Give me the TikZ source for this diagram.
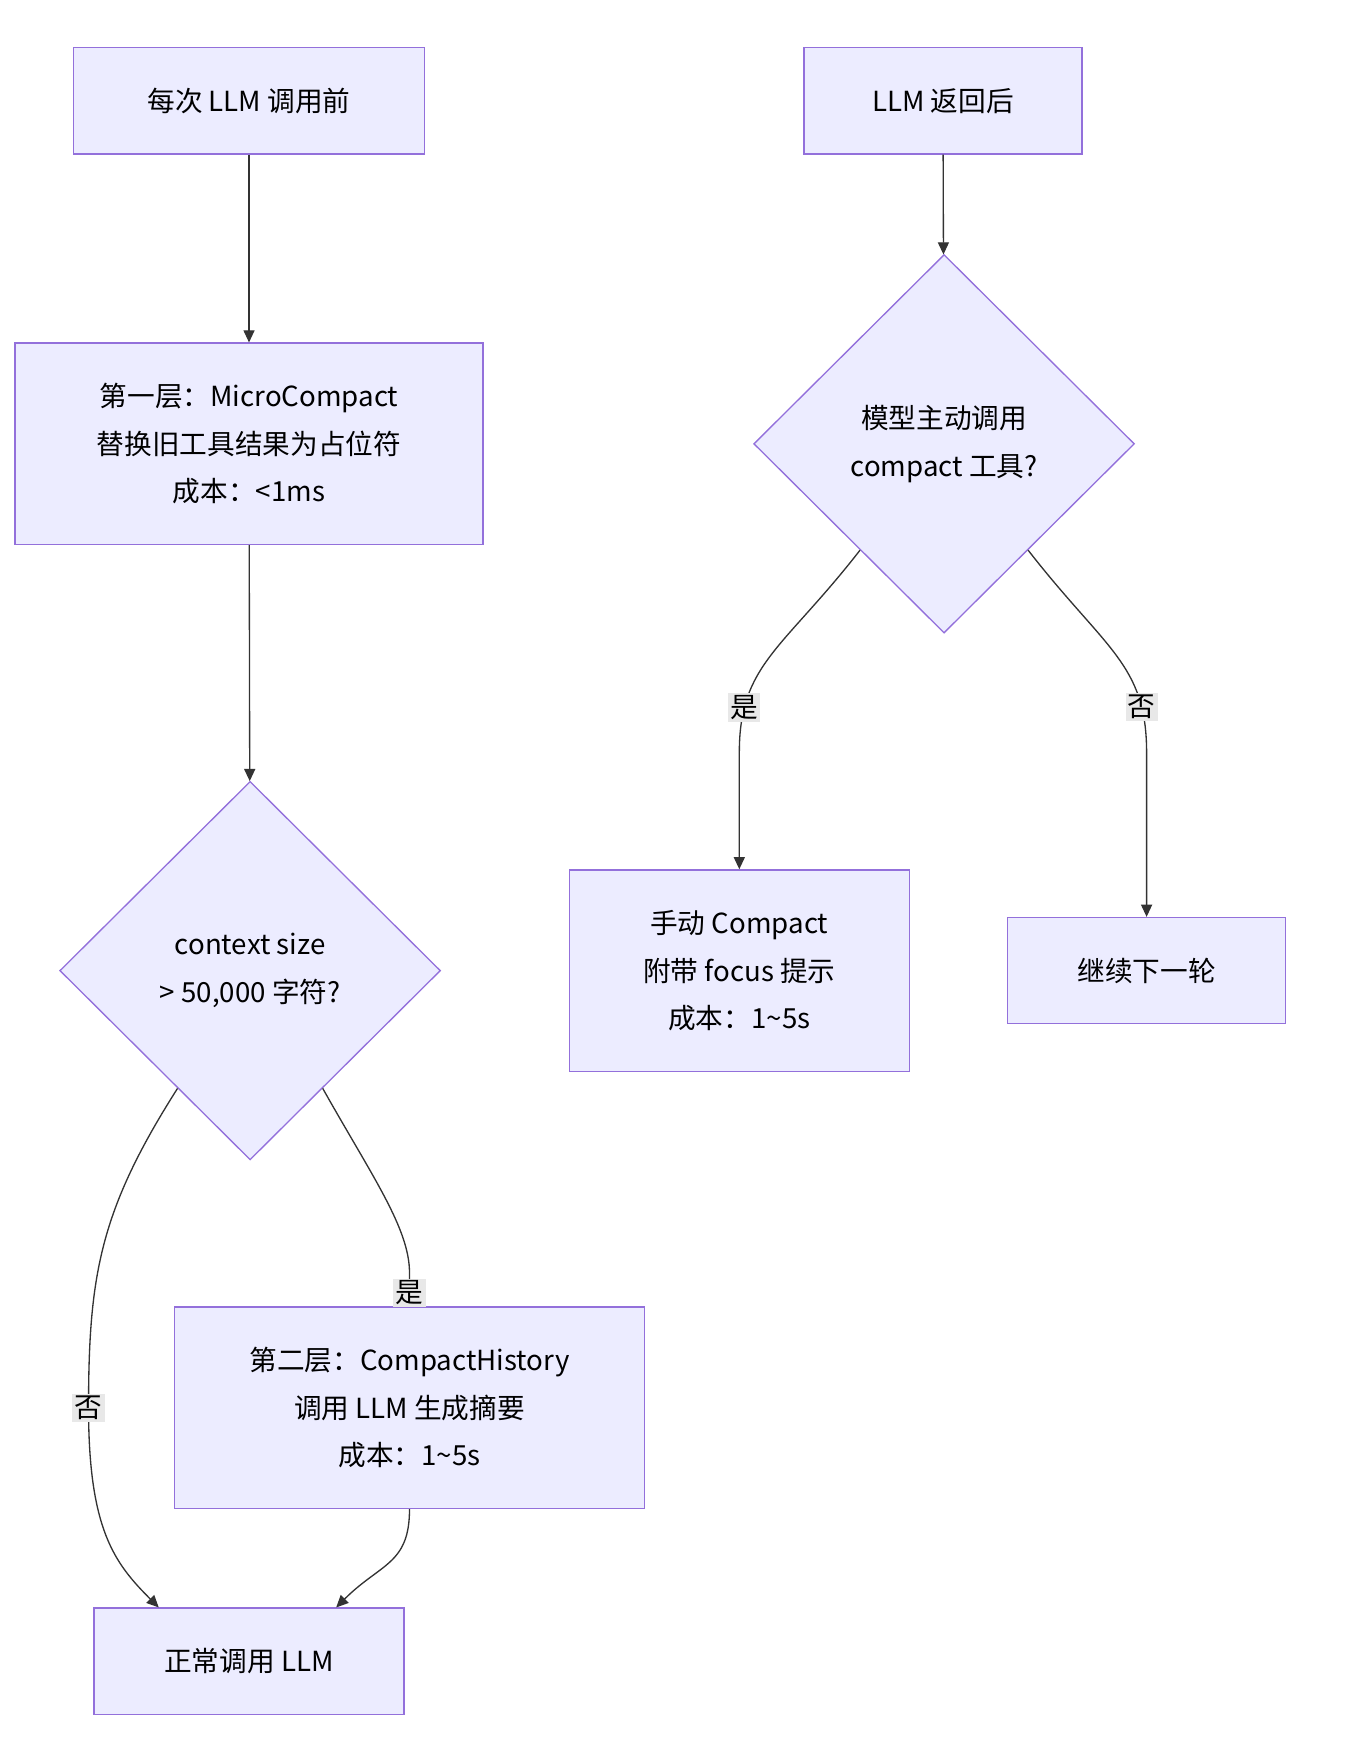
\documentclass[tikz,border=0pt]{standalone}
\usepackage{fontspec}
\setmainfont{Noto Sans CJK SC}
\usetikzlibrary{arrows.meta, shapes.geometric, positioning, calc}
\definecolor{boxfill}{HTML}{ECECFF}
\definecolor{boxline}{HTML}{9370DB}
\definecolor{edgeline}{HTML}{333333}
\definecolor{labelbg}{HTML}{E8E8E8}

\begin{document}
\begin{tikzpicture}[x=1pt, y=-1pt, font=\fontsize{25}{43}\selectfont,
    box/.style={rectangle, draw=boxline, fill=boxfill, line width=1.2pt, align=center, inner sep=0pt},
    decision/.style={diamond, draw=boxline, fill=boxfill, line width=1.2pt, align=center, inner sep=0pt, minimum width=344pt, minimum height=342pt},
    flow/.style={draw=edgeline, line width=1.2pt, -{Triangle[length=11pt, width=10pt]}},
    tag/.style={fill=labelbg, inner sep=2pt, font=\fontsize{25}{30}\selectfont}]

    \useasboundingbox (0,0) rectangle (1220,1583);

    % left column
    \node[box, minimum width=317pt, minimum height=96pt] (before) at (225,91) {每次 LLM 调用前};
    \node[box, minimum width=423pt, minimum height=182pt] (micro) at (225,401) {第一层：MicroCompact\\替换旧工具结果为占位符\\成本：<1ms};
    \node[decision] (size) at (226,877) {context size\\> 50,000 字符?};
    \node[box, minimum width=425pt, minimum height=182pt] (history) at (370,1272) {第二层：CompactHistory\\调用 LLM 生成摘要\\成本：1\textasciitilde5s};
    \node[box, minimum width=280pt, minimum height=96pt] (call) at (225,1501) {正常调用 LLM};

    % right column
    \node[box, minimum width=251pt, minimum height=96pt] (after) at (852,91) {LLM 返回后};
    \node[decision] (model) at (853,401) {模型主动调用\\compact 工具?};
    \node[box, minimum width=307pt, minimum height=182pt] (manual) at (668,877) {手动 Compact\\附带 focus 提示\\成本：1\textasciitilde5s};
    \node[box, minimum width=251pt, minimum height=96pt] (next) at (1036,877) {继续下一轮};

    \draw[flow] (before) -- (micro);
    \draw[flow] (micro) -- (size);
    \draw[flow] ($(size.east)!0.62!(size.south)$) .. controls +(45,80) and +(0,-40) .. (370,1150) -- (history.north)
        node[tag, pos=0.6] {是};
    \draw[flow] ($(size.west)!0.62!(size.south)$) .. controls +(-70,110) and +(0,-120) .. (80,1272)
        node[tag] {否} .. controls +(0,110) and +(-40,-40) .. ($(call.north west)!0.21!(call.north east)$);
    \draw[flow] (history.south) .. controls +(0,50) and +(40,-40) .. ($(call.north east)!0.22!(call.north west)$);

    \draw[flow] (after) -- (model);
    \draw[flow] ($(model.west)!0.56!(model.south)$) .. controls +(-70,90) and +(0,-80) .. (668,680)
        node[tag, pos=0.8] {是} -- (manual.north);
    \draw[flow] ($(model.east)!0.56!(model.south)$) .. controls +(70,90) and +(0,-80) .. (1036,680)
        node[tag, pos=0.8] {否} -- (next.north);

\end{tikzpicture}
\end{document}
